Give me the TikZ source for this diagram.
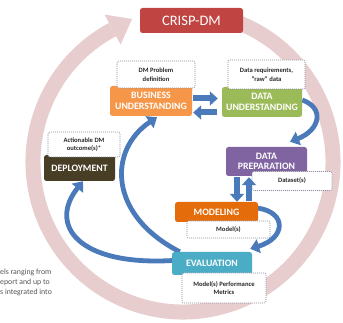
\documentclass[tikz,border=0pt]{standalone}
\usepackage{fontspec}
\setmainfont{Carlito}
\usetikzlibrary{arrows.meta,calc}
\definecolor{ringc}{RGB}{232,205,206}
\definecolor{crispc}{RGB}{192,68,66}
\definecolor{busc}{RGB}{246,150,72}
\definecolor{duc}{RGB}{155,187,89}
\definecolor{depc}{RGB}{72,62,38}
\definecolor{dpc}{RGB}{128,100,162}
\definecolor{modc}{RGB}{228,108,10}
\definecolor{evc}{RGB}{75,172,198}
\definecolor{arrc}{RGB}{74,122,186}
\definecolor{dashc}{RGB}{140,140,160}
\definecolor{txtc}{RGB}{40,40,40}
\definecolor{notec}{RGB}{85,85,85}
\pgfdeclarelayer{ringlayer}
\pgfdeclarelayer{arrowlayer}
\pgfsetlayers{ringlayer,arrowlayer,main}
\begin{document}
\begin{tikzpicture}[x=1pt,y=-1pt,
 phase/.style={rounded corners=2.5pt, text=white, font=\bfseries\fontsize{9.8}{10.5}\selectfont, align=center, inner sep=0pt},
 outbox/.style={draw=dashc, fill=white, line width=0.6pt, dash pattern=on 1pt off 1pt, rounded corners=2pt, font=\bfseries\fontsize{6.6}{8.5}\selectfont, text=txtc, align=center, inner sep=0pt},
 flow/.style={draw=arrc, line width=4.8pt, -{Triangle[width=14pt,length=9pt]}},
 blockarrow/.style={draw=arrc, line width=6pt, -{Triangle[width=14pt,length=8pt]}}]
\useasboundingbox (0,0) rectangle (343,323);

% ring
\begin{pgfonlayer}{ringlayer}
\draw[ringc, line width=15pt] (183,162) ++(-69:150) arc[start angle=-69, end angle=242, radius=150];
\fill[ringc] (104.6,14.6) -- (132,19) -- (120.6,44.6) -- cycle;
\end{pgfonlayer}

% title
\node[fill=crispc, rounded corners=2.5pt, text=white, font=\fontsize{14.5}{16}\selectfont, minimum width=103pt, minimum height=25pt, inner sep=0pt] (crisp) at (191.5,20.5) {CRISP-DM};

% phases
\node[phase, fill=busc, minimum width=82pt, minimum height=30pt] (bu) at (151,101) {BUSINESS\\UNDERSTANDING};
\node[phase, fill=duc, minimum width=80pt, minimum height=30pt] (du) at (262,102) {DATA\\UNDERSTANDING};
\node[phase, fill=depc, minimum width=71pt, minimum height=26pt] (dep) at (79.5,168) {DEPLOYMENT};
\node[phase, fill=dpc, minimum width=81pt, minimum height=29pt] (dp) at (266.5,161.5) {DATA\\PREPARATION};
\node[phase, fill=modc, minimum width=83pt, minimum height=20pt] (mod) at (216.5,212) {MODELING};
\node[phase, fill=evc, minimum width=80pt, minimum height=23pt] (ev) at (212,263.5) {EVALUATION};

% outputs
\node[outbox, minimum width=78pt, minimum height=27pt] (dmp) at (156,74.5) {DM Problem\\definition};
\node[outbox, minimum width=77pt, minimum height=29pt] (req) at (266.5,74.5) {Data requirements,\\``raw'' data};
\node[outbox, minimum width=72pt, minimum height=25pt] (act) at (84,144.5) {Actionable DM\\outcome(s)*};
\node[outbox, minimum width=80pt, minimum height=19pt] (ds) at (292,181) {Dataset(s)};
\node[outbox, minimum width=83pt, minimum height=17pt] (mdl) at (228.5,229.5) {Model(s)};
\node[outbox, minimum width=84pt, minimum height=30pt] (perf) at (224,288) {Model(s) Performance\\Metrics};

% note
\node[anchor=north west, align=left, font=\fontsize{7.8}{10}\selectfont, text=notec, inner sep=0pt] (note) at (0,268.5) {els ranging from\\eport and up to\\s integrated into};

% curved arrows
\begin{pgfonlayer}{arrowlayer}
\draw[flow] ($(du.east)+(0,-2)$) .. controls (325,108) and (320,130) .. ($(dp.north)+(23.5,-5)$);
\draw[flow] ($(mod.east)+(-1,-4)$) .. controls (287,212) and (286,238) .. ($(ev.north east)+(-2,-3)$);
\draw[flow] ($(ev.north west)+(8,0)$) .. controls (108,215) and (108,150) .. ($(bu.south)+(6,1)$);
\draw[flow] ($(ev.west)+(1,-3)$) .. controls (78,266) and (48,225) .. ($(dep.south)+(3.5,0)$);
\end{pgfonlayer}

% block arrows
\draw[blockarrow] ($(bu.east)+(1,-2.5)$) -- ($(bu.east -| du.west)+(-4,-2.5)$);
\draw[blockarrow] ($(bu.east -| du.west)+(-5,11.5)$) -- ($(bu.east)+(1,11.5)$);
\draw[blockarrow] ($(dp.south)+(-29.5,1)$) -- ($(mod.north)+(20.5,0)$);
\draw[blockarrow] ($(mod.north)+(32.5,-1)$) -- ($(dp.south)+(-17.5,1)$);
\end{tikzpicture}
\end{document}
